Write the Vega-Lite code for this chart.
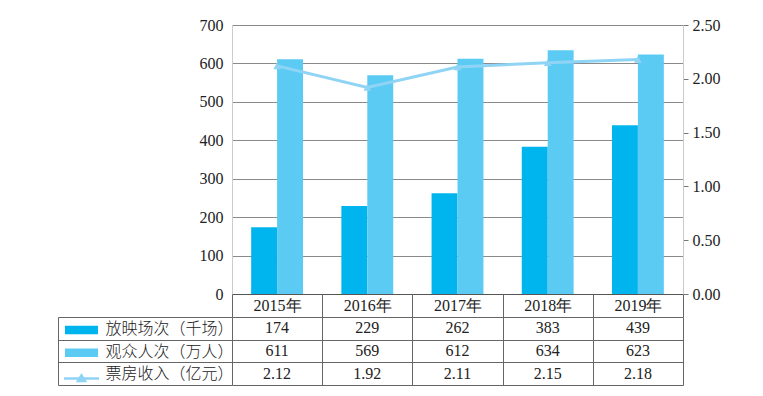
{
  "$schema": "https://vega.github.io/schema/vega-lite/v6.json",
  "padding": {"left": 57, "top": 17, "right": 5, "bottom": 5},
  "background": "white",
  "datasets": {
    "d": [
      {"year": "2015年", "放映场次（千场）": 174, "观众人次（万人）": 611, "票房收入（亿元）": 2.12},
      {"year": "2016年", "放映场次（千场）": 229, "观众人次（万人）": 569, "票房收入（亿元）": 1.92},
      {"year": "2017年", "放映场次（千场）": 262, "观众人次（万人）": 612, "票房收入（亿元）": 2.11},
      {"year": "2018年", "放映场次（千场）": 383, "观众人次（万人）": 634, "票房收入（亿元）": 2.15},
      {"year": "2019年", "放映场次（千场）": 439, "观众人次（万人）": 623, "票房收入（亿元）": 2.18}
    ]
  },
  "data": {"name": "d"},
  "spacing": 23,
  "bounds": "flush",
  "config": {
    "view": {"stroke": null},
    "axis": {"labelFont": "Liberation Serif", "labelFontSize": 16, "labelColor": "#222", "titleFont": "Liberation Serif"}
  },
  "vconcat": [
    {
      "width": 451,
      "height": 269,
      "layer": [
        {
          "transform": [{"fold": ["放映场次（千场）", "观众人次（万人）"], "as": ["series", "value"]}],
          "mark": {"type": "bar"},
          "encoding": {
            "x": {"field": "year", "type": "nominal",
                  "scale": {"paddingInner": 0.425, "paddingOuter": 0.2125},
                  "axis": {"title": null, "labels": false, "ticks": false, "grid": false, "domainColor": "#555"}},
            "xOffset": {"field": "series", "type": "nominal", "sort": ["放映场次（千场）", "观众人次（万人）"]},
            "y": {"field": "value", "type": "quantitative",
                  "scale": {"domain": [0, 700], "nice": false},
                  "axis": {"title": null, "values": [0, 100, 200, 300, 400, 500, 600, 700], "grid": true, "gridColor": "#8a8a8a", "ticks": false, "domainColor": "#cccccc", "labelPadding": 9}},
            "color": {"field": "series", "type": "nominal",
                      "scale": {"domain": ["放映场次（千场）", "观众人次（万人）", "票房收入（亿元）"], "range": ["#00b5ee", "#5ccbf4", "#8fd4f4"]},
                      "legend": {
                        "orient": "none", "legendX": -155.5, "legendY": 300, "title": null,
                        "symbolSize": 100, "labelExpr": "''", "rowPadding": 12.7, "padding": 0,
                        "encode": {"symbols": {"update": {
                          "shape": {"signal": "datum.value === '票房收入（亿元）' ? 'M-3.5,0H3.5M-0.7,0.5L0,-0.6L0.7,0.5Z' : 'M-3.3,-0.85H3.3V0.85H-3.3Z'"},
                          "fill": {"signal": "datum.value === '放映场次（千场）' ? '#00b5ee' : datum.value === '观众人次（万人）' ? '#5ccbf4' : '#8fd4f4'"},
                          "stroke": {"signal": "datum.value === '票房收入（亿元）' ? '#8fd4f4' : null"},
                          "strokeWidth": {"signal": "datum.value === '票房收入（亿元）' ? 2.5 : 0"},
                          "opacity": {"value": 1}
                        }}}
                      }}
          }
        },
        {
          "mark": {"type": "line", "strokeWidth": 3, "point": {"shape": "triangle-up", "filled": true, "size": 60}},
          "encoding": {
            "x": {"field": "year", "type": "nominal"},
            "y": {"field": "票房收入（亿元）", "type": "quantitative",
                  "scale": {"domain": [0, 2.5], "nice": false},
                  "axis": {"orient": "right", "title": null, "values": [0, 0.5, 1, 1.5, 2, 2.5], "format": ".2f", "grid": false, "tickColor": "#777", "tickSize": 5, "domainColor": "#cccccc", "labelPadding": 4}},
            "color": {"datum": "票房收入（亿元）"}
          }
        }
      ],
      "resolve": {"scale": {"y": "independent"}}
    },
    {
      "width": 451,
      "height": 68,
      "transform": [{"fold": ["放映场次（千场）", "观众人次（万人）", "票房收入（亿元）"], "as": ["row", "value"]}],
      "layer": [
        {
          "mark": {"type": "text", "font": "Liberation Serif", "fontSize": 16, "color": "#222"},
          "encoding": {
            "x": {"field": "year", "type": "nominal",
                  "scale": {"paddingInner": 0, "paddingOuter": 0},
                  "axis": {"orient": "top", "title": null, "tickBand": "extent", "tickSize": 23, "tickColor": "#666", "labelPadding": -11.5, "labelBaseline": "middle", "labelAngle": 0, "grid": true, "gridColor": "#666", "gridOpacity": 1, "domain": false}},
            "y": {"field": "row", "type": "nominal", "sort": ["放映场次（千场）", "观众人次（万人）", "票房收入（亿元）"],
                  "scale": {"paddingInner": 0, "paddingOuter": 0},
                  "axis": {"title": null, "tickBand": "extent", "tickSize": 174, "tickColor": "#666", "grid": true, "gridColor": "#666", "gridOpacity": 1, "domain": false, "labelAlign": "left", "labelPadding": -47, "labelFont": "Noto Sans CJK SC", "labelFontSize": 16, "labelFontWeight": 300}},
            "text": {"field": "value", "type": "nominal"}
          }
        },
        {
          "mark": {"type": "tick", "opacity": 0},
          "encoding": {
            "y": {"field": "row", "type": "nominal", "sort": ["放映场次（千场）", "观众人次（万人）", "票房收入（亿元）"],
                  "scale": {"paddingInner": 0, "paddingOuter": 0},
                  "axis": {"orient": "left", "offset": 174, "title": null, "labels": false, "ticks": false, "grid": false, "domain": true, "domainColor": "#666"}}
          }
        }
      ],
      "resolve": {"scale": {"y": "independent"}, "axis": {"y": "independent"}}
    }
  ]
}
